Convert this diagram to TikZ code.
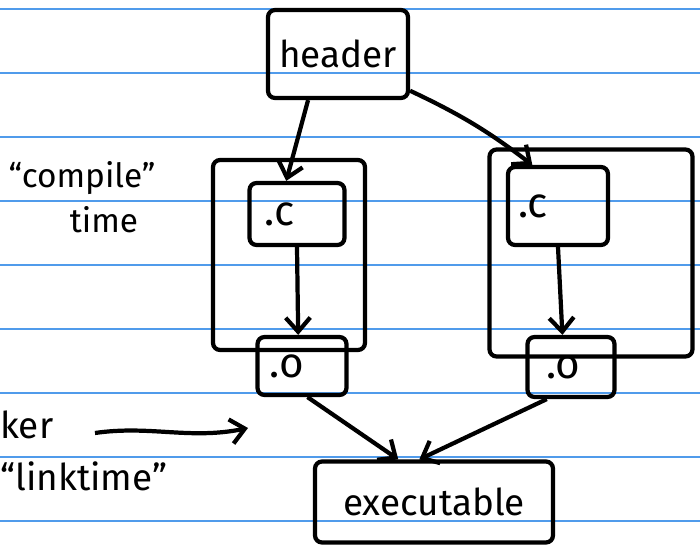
\documentclass[tikz,border=0pt]{standalone}
\usepackage{fontspec}
\setmainfont{Fira Sans}
\usetikzlibrary{arrows.meta}
\definecolor{azul}{RGB}{80,155,235}
\tikzset{
	>={Straight Barb[length=8pt,width=14pt]}, % puntas abiertas, como a mano
	caja/.style={draw, line width=2.4pt, rounded corners=4pt, inner sep=0pt}, % cajas
	flecha/.style={->, line width=2.4pt}, % conectores
	renglon/.style={line width=1.2pt, azul}, % lineas del cuaderno
	texto/.style={font=\fontsize{21}{24}\selectfont},
	ext/.style={font=\fontsize{24}{26}\selectfont, align=left} % .c y .o
}

\begin{document}
\begin{tikzpicture}[x=0.02cm, y=-0.02cm]
	\useasboundingbox (0,0) rectangle (700,548);
	% lineas del cuaderno
	\foreach \y in {9,73,...,521}
		\draw[renglon] (0,\y) -- (700,\y);

	% cajas de compilacion
	\node[caja, minimum width=3.04cm, minimum height=3.8cm] (compA) at (289,255) {};
	\node[caja, minimum width=4.06cm, minimum height=4.14cm] (compB) at (591,253) {};

	\node[caja, texto, minimum width=2.8cm, minimum height=1.76cm] (header) at (338,54) {header};
	\node[caja, ext, text width=1.3cm, minimum width=1.9cm, minimum height=1.24cm] (cA) at (297,214) {.c};
	\node[caja, ext, text width=1.3cm, minimum width=1.78cm, minimum height=1.16cm] (oA) at (302,366) {.o};
	\node[caja, ext, text width=1.6cm, minimum width=2.0cm, minimum height=1.56cm] (cB) at (558,206) {.c};
	\node[caja, ext, text width=1.0cm, minimum width=1.74cm, minimum height=1.2cm] (oB) at (571,367) {.o};
	\node[caja, texto, minimum width=4.76cm, minimum height=1.62cm] (exe) at (434,502) {executable};

	% textos del margen
	\node[texto, font=\fontsize{19}{22}\selectfont] (compile) at (82,178) {“compile”};
	\node[texto, font=\fontsize{19}{22}\selectfont] (time) at (104,220) {time};
	\node[texto, anchor=west, inner sep=0pt] (ker) at (0,425) {ker};
	\node[texto, anchor=west, inner sep=0pt] (linktime) at (0,476) {“linktime”};

	\coordinate (linkA) at (95,433);
	\coordinate (linkB) at (248,428);

	% flechas
	\draw[flecha] (header.237) -- (cA.108);
	\draw[flecha] (header.-27) to[bend left=6] (cB.122);
	\draw[flecha] (cA.south) -- (oA.97);
	\draw[flecha] (cB.south) -- (oB.105);
	\draw[flecha] (oA.-80) -- (exe.130);
	\draw[flecha] (oB.-127) -- (exe.109);
	\draw[flecha] (linkA) .. controls (150,425) and (190,440) .. (linkB);
\end{tikzpicture}
\end{document}
